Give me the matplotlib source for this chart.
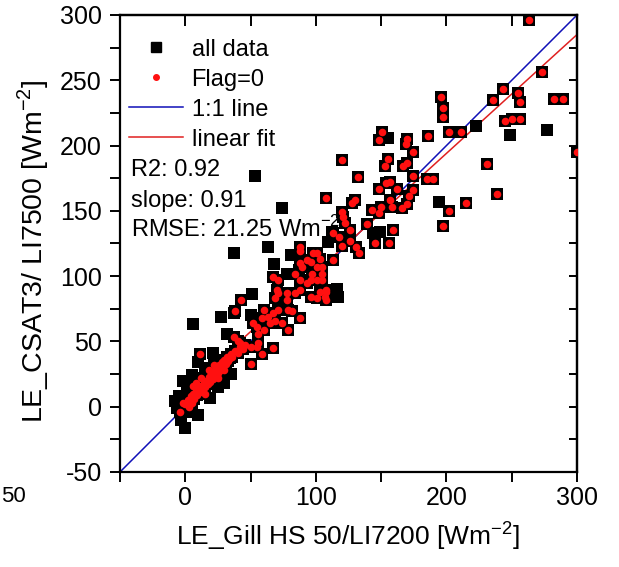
import matplotlib
matplotlib.use("Agg")
import matplotlib.pyplot as plt
from matplotlib.lines import Line2D
import numpy as np

plt.rcParams['font.family'] = ['Liberation Sans', 'DejaVu Sans']
plt.rcParams['mathtext.fontset'] = 'custom'
plt.rcParams['mathtext.rm'] = 'Liberation Sans'
plt.rcParams['axes.unicode_minus'] = False

# points with Flag=0 (drawn as black square + red dot)
x_flag = [263, 273, 243, 236, 255, 256, 282, 289, 196, 197, 197, 245, 250, 256, 211, 202, 186, 300,
          151, 148, 170, 169, 174, 155, 153, 170, 167, 231, 120, 132, 174, 185, 190, 157, 154, 148,
          162, 174, 171, 108, 130, 128, 239, 157, 158, 150, 143, 148, 170, 166, 202, 215, 120, 121,
          122, 139, 159, 126, 113, 197, 145, 156, 118, 120, 126, 131, 133,
          98, 93, 103, 105, 113, 88, 88, 88, 101, 96, 89, 101, 97, 105, 105, 101, 84, 88, 67, 71,
          70, 71, 69, 78, 84, 88, 93, 96, 103, 108, 107, 101, 96, 108, 108,
          43, 38, 60, 59, 63, 67, 65, 69, 71, 78, 79, 82, 88, 74, 79, 52, 55, 56, 60, 37, 40, 46,
          56, 67, 50, 11, 50, 59, 55, 34, 42,
          -4, -2, 0, 2, 3, 4, 5, 6, 7, 8, 9, 10, 11, 12, 13, 14, 15, 16, 17, 18, 19, 20, 21, 22,
          23, 24, 25, 26, 27, 28, 29, 30, 31, 32, 33, 35, 36, 38, 40, 42, 44, 12, 8, 18, 22, 15,
          25, 30, 6]
y_flag = [296, 256, 243, 235, 240, 233, 236, 236, 237, 229, 222, 219, 220, 220, 210, 210, 207, 195,
          210, 204, 205, 201, 195, 190, 184, 187, 184, 186, 189, 176, 177, 174, 174, 172, 171, 167,
          167, 166, 161, 160, 158, 156, 163, 158, 153, 153, 151, 148, 155, 152, 150, 156, 149, 145,
          141, 140, 135, 135, 133, 138, 125, 125, 130, 123, 127, 122, 118,
          118, 112, 113, 107, 112, 122, 110, 119, 118, 111, 107, 107, 102, 102, 97, 97, 102, 97, 99, 97,
          89, 87, 83, 87, 87, 89, 95, 97, 88, 89, 84, 83, 84, 88, 82,
          82, 73, 74, 68, 69, 72, 64, 66, 74, 82, 74, 73, 68, 64, 59, 64, 61, 56, 59, 53, 50, 47,
          49, 45, 46, 40, 33, 40, 46, 37, 49,
          -4, 3, 2, 5, 0, 8, 3, 10, 6, 12, 9, 14, 11, 16, 13, 18, 15, 20, 17, 23, 19, 25, 21, 27,
          24, 29, 26, 32, 28, 34, 31, 36, 33, 38, 35, 40, 38, 43, 41, 46, 44, 22, 18, 28, 32, 10,
          22, 28, 16]

# points that are not Flag=0 (black square only)
x_other = [249, 277, 223, 155, 194, 144, 149, 112, 109, 116, 117, 37, 63, 81, 68, 87, 78, 53, 74,
           51, 50, 27, 6, 32, -2, 5, 19, 27, 30, 15, 10, -8, -6, -3, 0, 10, 19, 1, 17, 21, 37, -5,
           2, 25, 35, 30]
y_other = [208, 212, 215, 206, 157, 133, 134, 134, 126, 90, 84, 118, 122, 116, 109, 105, 102, 177, 152,
           86, 70, 69, 63, 56, 20, 24, 26, 23, 30, 30, 34, 4, -1, -10, -16, -6, 7, 13, 20, 41, 72, 8,
           -4, 15, 25, 18]

fit_slope = 0.91
fit_intercept = 12
r2_text = "R2: 0.92"
slope_text = "slope: 0.91"
rmse_text = "RMSE: 21.25 Wm$^{-2}$"

x_all = x_flag + x_other
y_all = y_flag + y_other

fig = plt.figure(figsize=(6.19, 5.67), dpi=100)
ax = fig.add_axes([0.1939, 0.1676, 0.7383, 0.806])

ax.plot([-50, 300], [-50, 300], color='#1010b8', lw=1.1, zorder=1)
xf = np.array([min(x_all), 310])
ax.plot(xf, fit_slope * xf + fit_intercept, color='#e02020', lw=1.1, zorder=1)

ax.scatter(x_all, y_all, marker='s', s=64, c='black', linewidths=0, zorder=2)
ax.scatter(x_flag, y_flag, marker='o', s=30, c='#ff1010', linewidths=0, zorder=3)

ax.set_xlim(-50, 300)
ax.set_ylim(-50, 300)
ax.set_xticks([0, 100, 200, 300])
ax.set_xticks([-50, 50, 150, 250], minor=True)
ax.set_yticks([-50, 0, 50, 100, 150, 200, 250, 300])
ax.set_yticks(np.arange(-25, 300, 50), minor=True)
ax.tick_params(which='both', direction='out', length=7, width=1.4, labelsize=18,
               top=False, right=False)
ax.tick_params(axis='y', which='both', pad=6)
ax.tick_params(axis='x', which='both', pad=3)
for s in ax.spines.values():
    s.set_linewidth(1.6)

top = ax.secondary_xaxis('top')
top.set_xticks(np.arange(-50, 301, 50))
top.tick_params(direction='in', length=8, width=1.4, labeltop=False)
top.spines['top'].set_linewidth(1.6)
right = ax.secondary_yaxis('right')
right.set_yticks(np.arange(-50, 301, 25))
right.tick_params(direction='in', length=6, width=1.4, labelright=False)
right.spines['right'].set_linewidth(1.6)

ax.set_xlabel("LE_Gill HS 50/LI7200 [Wm$^{-2}$]", fontsize=19, labelpad=7)
ax.set_ylabel("LE_CSAT3/ LI7500 [Wm$^{-2}$]", fontsize=20.5)
ax.yaxis.set_label_coords(-0.15, 0.484)

handles = [
    Line2D([], [], marker='s', color='black', ls='none', markersize=7.5),
    Line2D([], [], marker='o', color='#ff1010', ls='none', markersize=4),
    Line2D([], [], color='#1010b8', lw=1.1),
    Line2D([], [], color='#e02020', lw=1.1),
]
ax.legend(handles, ["all data", "Flag=0", "1:1 line", "linear fit"], loc='upper left',
          bbox_to_anchor=(0.0, 0.969), frameon=False, fontsize=17, handlelength=2.25,
          handletextpad=0.38, labelspacing=0.34, borderaxespad=0, borderpad=0.4)

ax.text(0.025, 0.648, r2_text, transform=ax.transAxes, fontsize=17, va='baseline')
ax.text(0.025, 0.580, slope_text, transform=ax.transAxes, fontsize=17, va='baseline')
ax.text(0.025, 0.514, rmse_text, transform=ax.transAxes, fontsize=17, va='baseline')

fig.text(0.002, 1 - 497 / 567, "50", fontsize=16, ha='left', va='center')

fig.savefig("out.png", dpi=100)
